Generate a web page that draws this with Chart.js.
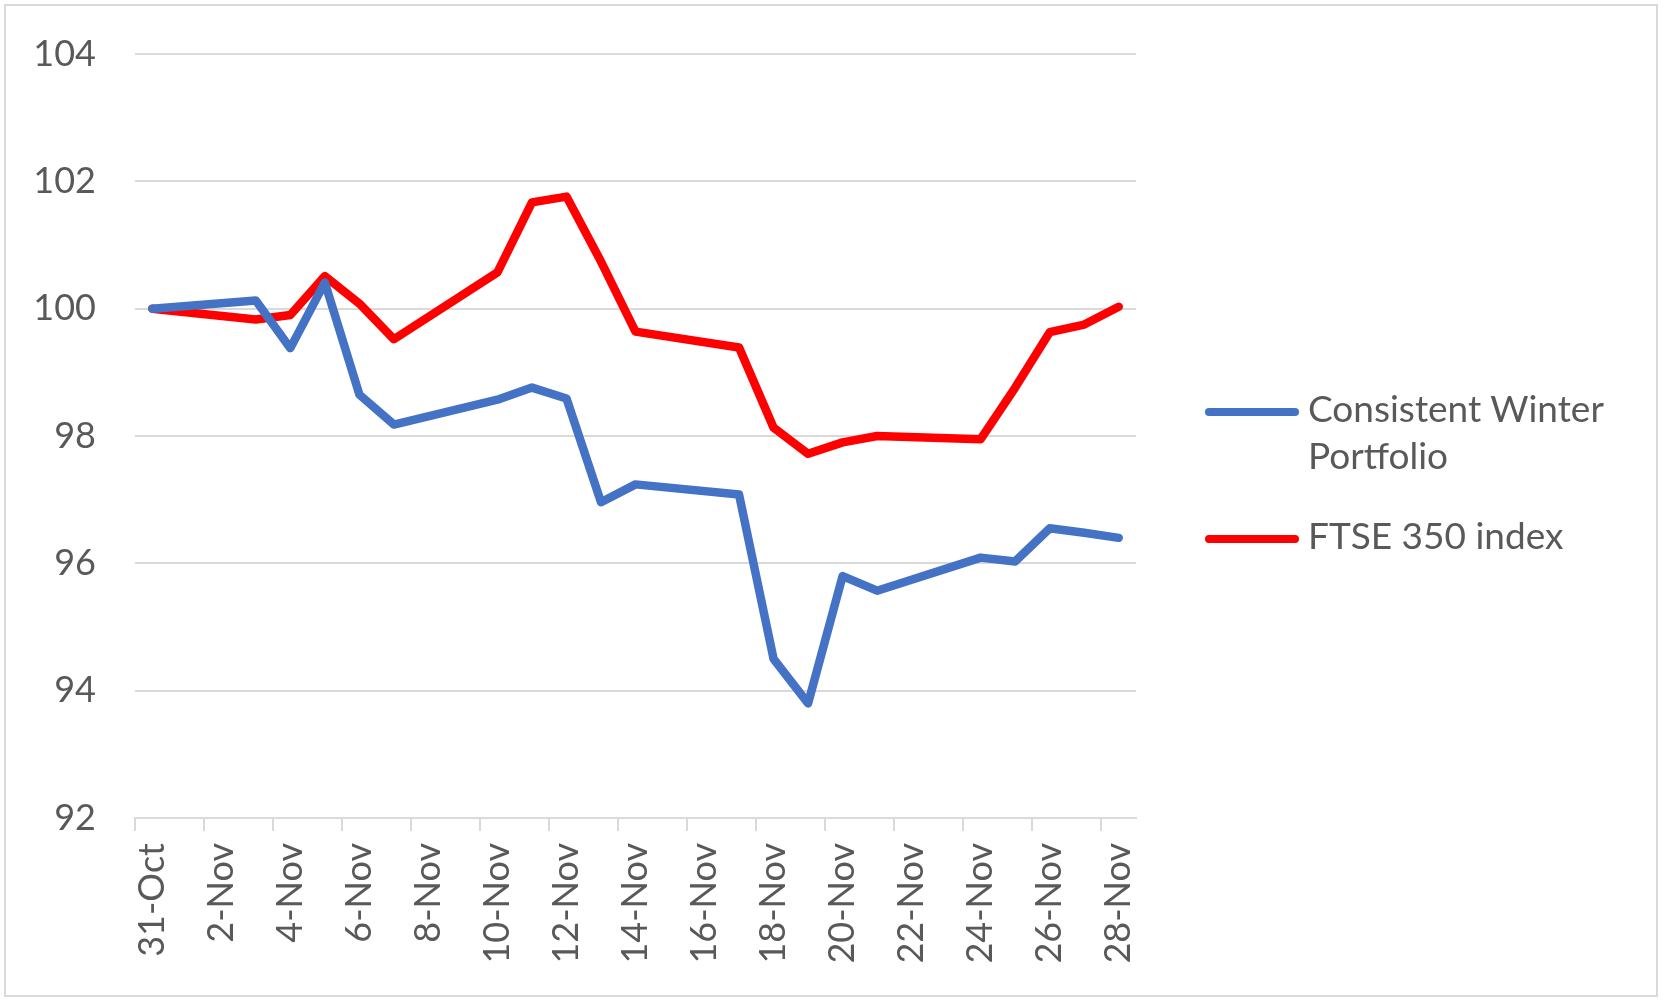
<!DOCTYPE html>
<html>
<head>
<meta charset="utf-8">
<script src="https://cdn.jsdelivr.net/npm/chart.js@4.4.1/dist/chart.umd.min.js"></script>
<style>
  html, body { margin: 0; padding: 0; background: #fff; }
  #wrap { position: relative; width: 1663px; height: 1003px; }
  #frame { position: absolute; left: 4px; top: 4px; width: 1650px; height: 989px; border: 2px solid #d9d9d9; }
  #chart { position: absolute; left: 0; top: 0; }
  #legend { position: absolute; left: 1205px; top: 384px; font-family: Lato, sans-serif; font-size: 37px; color: #595959; }
  .item { position: relative; padding-left: 103px; line-height: 47px; margin-bottom: 33px; width: 350px; }
  .swatch { position: absolute; left: 0; top: 24px; width: 94px; height: 8px; border-radius: 4px; }
</style>
</head>
<body>
<div id="wrap">
  <div id="frame"></div>
  <canvas id="chart" width="1663" height="1003"></canvas>
  <div id="legend"></div>
</div>
<script>
// calendar days on the axis, weekends left empty (null)
let days = ['31-Oct','1-Nov','2-Nov','3-Nov','4-Nov','5-Nov','6-Nov','7-Nov','8-Nov','9-Nov',
  '10-Nov','11-Nov','12-Nov','13-Nov','14-Nov','15-Nov','16-Nov','17-Nov','18-Nov','19-Nov',
  '20-Nov','21-Nov','22-Nov','23-Nov','24-Nov','25-Nov','26-Nov','27-Nov','28-Nov'];

let portfolio = [100.0, null, null, 100.13, 99.38, 100.41, 98.65, 98.18, null, null,
  98.57, 98.76, 98.59, 96.96, 97.24, null, null, 97.08, 94.5, 93.8,
  95.8, 95.57, null, null, 96.09, 96.03, 96.55, 96.48, 96.4];

let ftse = [100.0, null, null, 99.83, 99.9, 100.51, 100.08, 99.52, null, null,
  100.57, 101.67, 101.76, 100.74, 99.64, null, null, 99.39, 98.13, 97.72,
  97.9, 98.0, null, null, 97.95, 98.76, 99.63, 99.75, 100.03];

let seriesNames = ['Consistent Winter Portfolio', 'FTSE 350 index'];
let seriesColors = ['#4472C4', '#FF0000'];
let yTicks = [92, 94, 96, 98, 100, 102, 104];

const textColor = '#595959';
const gridColor = '#d9d9d9';
const font = { family: 'Lato', size: 36 };

function makeSet(i, data) {
  return {
    label: seriesNames[i],
    data: data,
    borderColor: seriesColors[i],
    backgroundColor: seriesColors[i],
    borderWidth: 8.5,
    borderCapStyle: 'round',
    borderJoinStyle: 'round',
    pointRadius: 0,
    tension: 0,
    spanGaps: true
  };
}

let ctx = document.getElementById('chart').getContext('2d');
let chart = new Chart(ctx, {
  type: 'line',
  data: {
    labels: days,
    datasets: [makeSet(0, portfolio), makeSet(1, ftse)]
  },
  options: {
    responsive: false,
    animation: false,
    layout: { padding: { left: 0, top: 54, right: 527, bottom: 0 } },
    plugins: { legend: { display: false }, tooltip: { enabled: false } },
    scales: {
      x: {
        offset: true,
        grid: {
          offset: true,
          drawOnChartArea: false,
          drawTicks: true,
          tickLength: 13,
          lineWidth: 2,
          color: c => (c.index % 2 === 0 ? gridColor : 'rgba(0,0,0,0)')
        },
        border: { display: true, color: gridColor, width: 2 },
        ticks: {
          autoSkip: false,
          minRotation: 90,
          maxRotation: 90,
          padding: 12,
          color: textColor,
          font: font,
          callback: function (v, i) { return i % 2 === 0 ? this.getLabelForValue(v) : ''; }
        },
        afterFit: s => { s.height = 185; s.paddingLeft = 0; s.paddingRight = 0; }
      },
      y: {
        min: yTicks[0],
        max: yTicks[yTicks.length - 1],
        afterBuildTicks: s => { s.ticks = yTicks.map(v => ({ value: v })); },
        grid: { color: gridColor, lineWidth: 2, drawTicks: false },
        border: { display: false },
        ticks: { padding: 39, color: textColor, font: font },
        afterFit: s => { s.width = 135; s.paddingTop = 0; s.paddingBottom = 0; }
      }
    }
  }
});

// legend on the right, built from the series
let legend = document.getElementById('legend');
seriesNames.forEach((name, i) => {
  let item = document.createElement('div');
  item.className = 'item';
  item.innerHTML = '<span class="swatch" style="background:' + seriesColors[i] + '"></span>' + name;
  legend.appendChild(item);
});
</script>
</body>
</html>
